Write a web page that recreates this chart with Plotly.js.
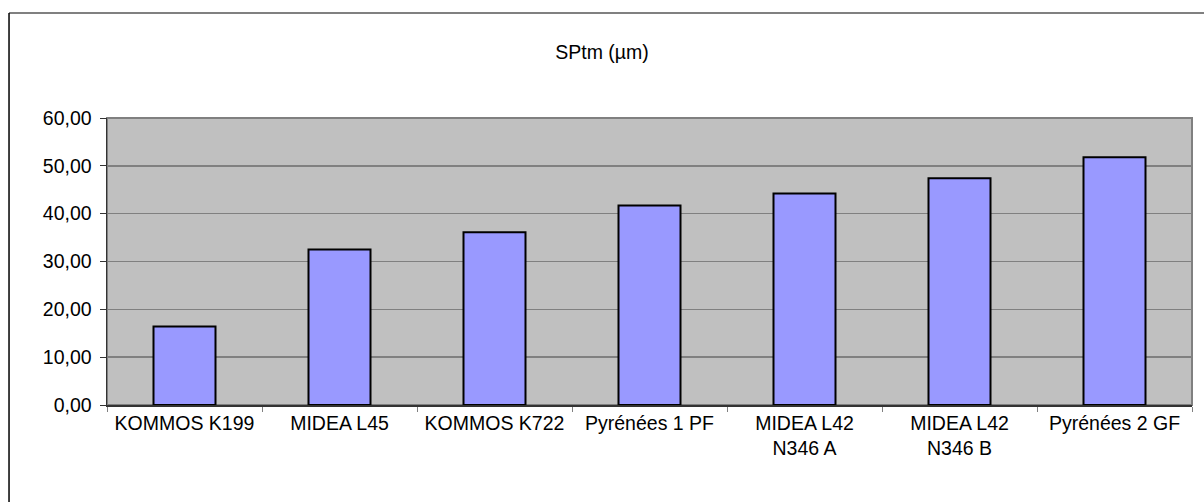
<!DOCTYPE html>
<html>
<head>
<meta charset="utf-8">
<script src="https://cdn.plot.ly/plotly-3.0.1.min.js"></script>
<style>
html,body{margin:0;padding:0;background:#fff;}
#chart{width:1204px;height:502px;}
</style>
</head>
<body>
<div id="chart"></div>
<script>
const categories = ["KOMMOS K199", "MIDEA L45", "KOMMOS K722", "Pyrénées 1 PF", "MIDEA L42<br>N346 A", "MIDEA L42<br>N346 B", "Pyrénées 2 GF"];
const sptmValues = [16.4, 32.5, 36.1, 41.7, 44.2, 47.4, 51.8];
const yTickValues = [0, 10, 20, 30, 40, 50, 60];
const yTickLabels = ["0,00", "10,00", "20,00", "30,00", "40,00", "50,00", "60,00"];
const chartTitle = "SPtm (µm)";

const font = {family: "Liberation Sans, Arial, sans-serif", size: 19.5, color: "#000"};

const trace = {
  type: "bar",
  x: categories,
  y: sptmValues,
  marker: {color: "#9999ff", line: {color: "#000", width: 2}},
  hoverinfo: "x+y"
};

const layout = {
  width: 1204,
  height: 502,
  margin: {l: 107, r: 12, t: 118, b: 97, pad: 0},
  paper_bgcolor: "#ffffff",
  plot_bgcolor: "#c0c0c0",
  font: font,
  showlegend: false,
  bargap: 0.6,
  title: {text: chartTitle, font: {family: font.family, size: 19.5, color: "#000"}, x: 0.5, xanchor: "center", y: 0.896, yanchor: "middle"},
  xaxis: {
    type: "category",
    tickson: "boundaries",
    ticks: "outside",
    ticklen: 5,
    tickcolor: "#808080",
    showline: true,
    linecolor: "#333",
    linewidth: 1.5,
    showgrid: false,
    tickfont: font,
    tickangle: 0,
    fixedrange: true
  },
  yaxis: {
    range: [0, 60],
    tickvals: yTickValues,
    ticktext: yTickLabels,
    ticks: "outside",
    ticklen: 6,
    tickcolor: "#333",
    showline: true,
    linecolor: "#333",
    linewidth: 1.5,
    showgrid: true,
    gridcolor: "#808080",
    gridwidth: 1.5,
    zeroline: false,
    tickfont: font,
    ticklabelstandoff: 4,
    fixedrange: true
  },
  shapes: [
    {type: "rect", xref: "paper", yref: "paper", x0: 0, x1: 1, y0: 0, y1: 1, line: {color: "#808080", width: 2}, layer: "below"},
    {type: "line", xref: "paper", yref: "paper", x0: -0.0903, x1: 1.2, y0: 1.3659, y1: 1.3659, line: {color: "#808080", width: 2}},
    {type: "line", xref: "paper", yref: "paper", x0: -0.0903, x1: -0.0903, y0: 1.3659, y1: -0.5, line: {color: "#000", width: 1.5}}
  ]
};

Plotly.newPlot("chart", [trace], layout, {displayModeBar: false, staticPlot: true});
</script>
</body>
</html>
